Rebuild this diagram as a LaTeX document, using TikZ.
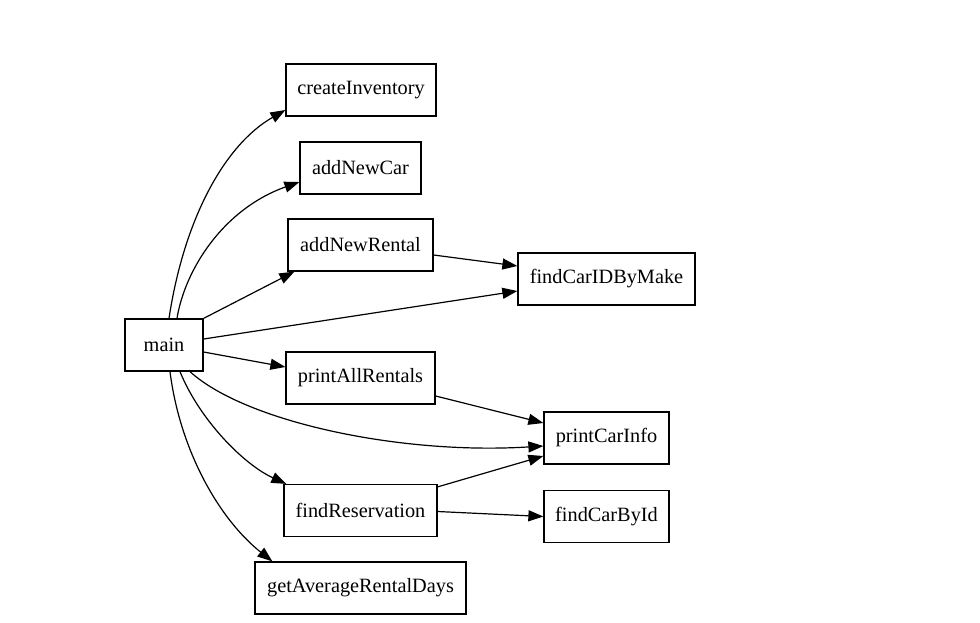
\documentclass[tikz,border=0pt]{standalone}
\usepackage{fontspec}
\setmainfont{Liberation Serif}
\usetikzlibrary{arrows.meta}
\begin{document}
\begin{tikzpicture}[x=1pt,y=-1pt,
  fn/.style={draw=black,line width=1.25pt,rectangle,inner sep=0pt,minimum height=52pt,font=\fontsize{20.3}{24}\selectfont},
  call/.style={line width=1.2pt,-{Triangle[length=15pt,width=11pt]}}]
\useasboundingbox (0,0) rectangle (980,622);
\node[fn,minimum width=78pt]  (main) at (164,345) {main};
\node[fn,minimum width=150pt] (ci)   at (361,90) {createInventory};
\node[fn,minimum width=121pt] (anc)  at (360.5,168) {addNewCar};
\node[fn,minimum width=145pt] (anr)  at (360.5,245) {addNewRental};
\node[fn,minimum width=177pt] (fcm)  at (606.5,279) {findCarIDByMake};
\node[fn,minimum width=149pt] (par)  at (360.5,378) {printAllRentals};
\node[fn,minimum width=125pt] (pci)  at (606.5,438) {printCarInfo};
\node[fn,minimum width=153pt] (fr)   at (360.5,510.5) {findReservation};
\node[fn,minimum width=125pt] (fcb)  at (606.5,516.5) {findCarById};
\node[fn,minimum width=211pt] (gar)  at (360.5,588) {getAverageRentalDays};

\draw[call] ([xshift=5pt]main.north) .. controls +(15,-99) and +(-61,35) .. ([yshift=-20pt]ci.west);
\draw[call] ([xshift=13pt]main.north) .. controls +(8,-49) and +(-76,27) .. ([yshift=-14pt]anc.west);
\draw[call] (main.north east) -- ([xshift=7pt]anr.south west);
\draw[call] ([yshift=6pt]main.east) -- ([yshift=-12pt]fcm.west);
\draw[call] ([yshift=-10pt]anr.east) -- ([yshift=13pt]fcm.west);
\draw[call] ([yshift=-7pt]main.east) -- ([yshift=11pt]par.west);
\draw[call] ([yshift=-18pt]par.east) -- ([yshift=15pt]pci.west);
\draw[call] ([xshift=26pt]main.south) .. controls +(55,50) and +(-144,9) .. ([yshift=-8pt]pci.west);
\draw[call] ([xshift=16pt]main.south) .. controls +(20,49) and +(-42,-19) .. ([xshift=3pt]fr.north west);
\draw[call] ([xshift=6pt]main.south) .. controls +(10,79) and +(-53,-42) .. ([xshift=18pt]gar.north west);
\draw[call] ([yshift=-3pt]fr.north east) -- ([yshift=-18pt]pci.west);
\draw[call] ([yshift=-1pt]fr.east) -- (fcb.west);
\end{tikzpicture}
\end{document}
